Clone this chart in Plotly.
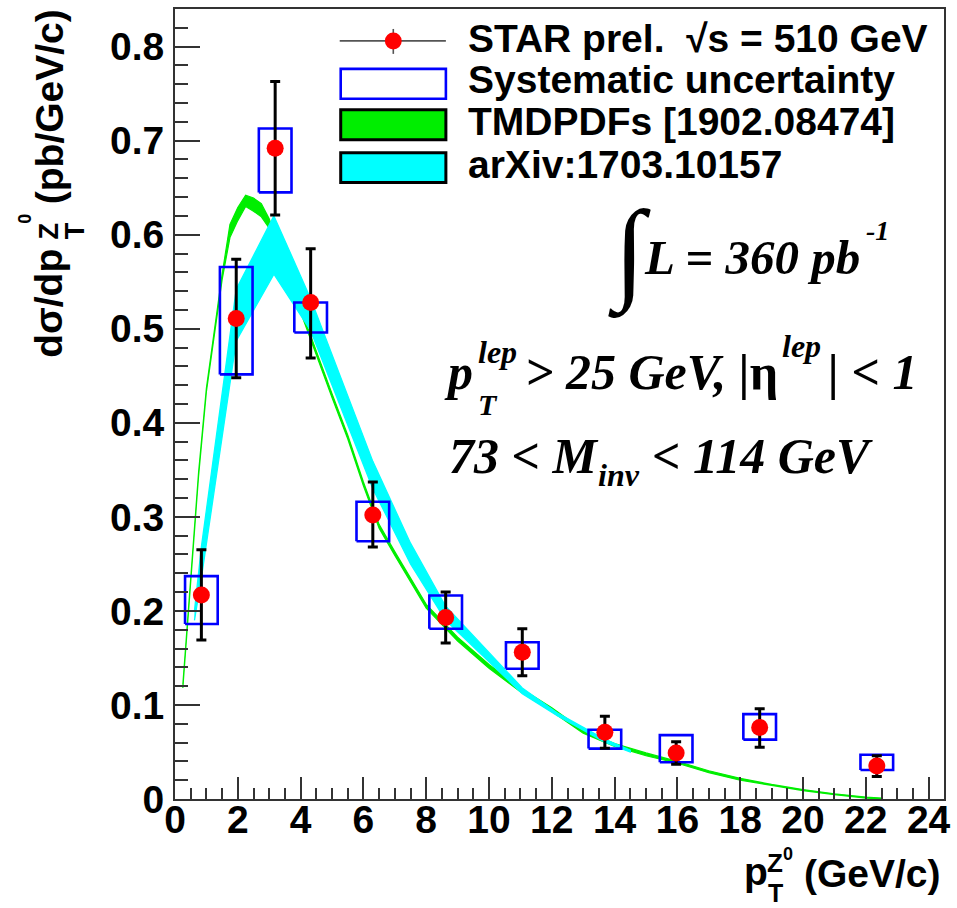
import plotly.graph_objects as go

# ---- STAR preliminary Z0 pT spectrum, sqrt(s) = 510 GeV ----
pt = [0.84, 1.95, 3.19, 4.32, 6.30, 8.62, 11.06, 13.69, 15.96, 18.62, 22.35]
xsec = [0.217, 0.511, 0.692, 0.528, 0.302, 0.193, 0.156, 0.071, 0.049, 0.076, 0.035]
stat_up = [0.048, 0.063, 0.071, 0.057, 0.035, 0.027, 0.025, 0.017, 0.012, 0.020, 0.011]
stat_dn = [0.048, 0.063, 0.071, 0.059, 0.034, 0.027, 0.025, 0.017, 0.012, 0.021, 0.011]
sys_lo = [0.186, 0.4515, 0.645, 0.496, 0.274, 0.181, 0.1385, 0.0536, 0.0390, 0.0631, 0.0308]
sys_hi = [0.237, 0.5657, 0.713, 0.528, 0.316, 0.2164, 0.1667, 0.0737, 0.0679, 0.0902, 0.0470]

# ---- TMDPDFs [1902.08474] prediction band ----
tmd_pt = [0.25, 0.5, 0.75, 1.0, 1.25, 1.5, 1.75, 2.0, 2.25, 2.5, 2.75, 3.0, 3.5, 4.0,
          4.5, 5.0, 5.5, 6.0, 6.5, 7.0, 8.0, 9.0, 10.0, 11.0, 12.0, 13.0, 14.0, 15.0,
          16.0, 17.0, 18.0, 19.0, 20.0, 21.0, 22.0, 22.5]
tmd_lo = [0.118, 0.233, 0.343, 0.433, 0.493, 0.552, 0.597, 0.615, 0.630, 0.625, 0.619,
          0.607, 0.563, 0.517, 0.473, 0.427, 0.383, 0.333, 0.288, 0.259, 0.203, 0.168,
          0.139, 0.114, 0.093, 0.070, 0.056, 0.046, 0.038, 0.028, 0.020, 0.0145, 0.009,
          0.0045, 0.001, 0.0]
tmd_hi = [0.122, 0.237, 0.347, 0.437, 0.497, 0.558, 0.611, 0.629, 0.642, 0.639, 0.633,
          0.617, 0.567, 0.521, 0.477, 0.431, 0.387, 0.337, 0.292, 0.263, 0.207, 0.172,
          0.143, 0.118, 0.097, 0.073, 0.059, 0.049, 0.040, 0.030, 0.022, 0.0155, 0.010,
          0.0055, 0.002, 0.001]

# ---- arXiv:1703.10157 prediction band ----
arx_pt = [0.62, 0.84, 1.95, 3.15, 4.32, 6.30, 7.5, 8.62, 11.06, 12.2, 13.69, 14.5]
arx_lo = [0.190, 0.235, 0.487, 0.558, 0.498, 0.330, 0.250, 0.190, 0.112, 0.088, 0.0605, 0.050]
arx_hi = [0.200, 0.268, 0.542, 0.620, 0.532, 0.359, 0.272, 0.205, 0.118, 0.091, 0.0635, 0.052]

# ---- axes ----
x_ticks = [0, 2, 4, 6, 8, 10, 12, 14, 16, 18, 20, 22, 24]
y_ticks = [0, 0.1, 0.2, 0.3, 0.4, 0.5, 0.6, 0.7, 0.8]
y_ticktext = ["0", "0.1", "0.2", "0.3", "0.4", "0.5", "0.6", "0.7", "0.8"]

legend_labels = ["STAR prel.  \u221as = 510 GeV", "Systematic uncertainty",
                 "TMDPDFs [1902.08474]", "arXiv:1703.10157"]

# ---- styles ----
W, H = 957, 908
L, R, T, B = 175, 950, 7, 799          # plot frame in pixels
SANS = "Liberation Sans, Arial, Helvetica, sans-serif"
SERIF = "Liberation Serif, Times New Roman, serif"
GREEN = "#00ee00"
CYAN = "#00ffff"
BLUE = "#0000ff"
RED = "#ff0000"
AXIS = "#333333"
SYS_HALF = 0.52


def fx(px):
    return (px - L) / (R - L)


def fy(py):
    return (B - py) / (B - T)


fig = go.Figure()

# prediction bands as closed polygons
fig.add_trace(go.Scatter(
    x=tmd_pt + tmd_pt[::-1], y=tmd_hi + tmd_lo[::-1],
    fill="toself", fillcolor=GREEN, mode="lines",
    line=dict(color=GREEN, width=1.2), hoverinfo="skip", showlegend=False))
fig.add_trace(go.Scatter(
    x=arx_pt + arx_pt[::-1], y=arx_hi + arx_lo[::-1],
    fill="toself", fillcolor=CYAN, mode="lines",
    line=dict(color=CYAN, width=1.3), hoverinfo="skip", showlegend=False))

# systematic uncertainty boxes
bx, by = [], []
for x, lo, hi in zip(pt, sys_lo, sys_hi):
    bx += [x - SYS_HALF, x + SYS_HALF, x + SYS_HALF, x - SYS_HALF, x - SYS_HALF, None]
    by += [lo, lo, hi, hi, lo, None]
fig.add_trace(go.Scatter(
    x=bx, y=by, mode="lines", line=dict(color=BLUE, width=2.6),
    hoverinfo="skip", showlegend=False))

# data points with statistical errors
fig.add_trace(go.Scatter(
    x=pt, y=xsec, mode="markers",
    marker=dict(color=RED, size=17, line=dict(width=0)),
    error_y=dict(type="data", symmetric=False, array=stat_up, arrayminus=stat_dn,
                 color="black", thickness=3, width=5),
    showlegend=False))

ann = []


def text(s, px, py, size, family=SANS, xanchor="left", yanchor="middle",
         angle=0, italic=False):
    ann.append(dict(
        text=s, x=fx(px), y=fy(py), xref="paper", yref="paper",
        xanchor=xanchor, yanchor=yanchor, showarrow=False, textangle=angle,
        font=dict(family=family, size=size, color="black", weight="bold",
                  style="italic" if italic else "normal")))


# y axis title
text("d\u03c3/dp", 48, 301.5, 39, xanchor="center", angle=-90)
text("T", 75, 229, 27, xanchor="center", angle=-90)
text("Z", 48, 229, 27, xanchor="center", angle=-90)
text("0", 24, 217, 18, xanchor="center", angle=-90)
text("(pb/GeV/c)", 48, 104.5, 39, xanchor="center", angle=-90)

# x axis title
text("p", 746, 872, 39)
text("T", 780, 893.5, 25, xanchor="center")
text("Z", 780, 863, 26, xanchor="center")
text("0", 793, 854.5, 18, xanchor="center")
text("(GeV/c)", 949, 874, 39, xanchor="right")

# luminosity and kinematic cuts
text("\u222b", 633, 252, 112, family=SERIF, xanchor="center")
text("L = 360 pb", 646, 256, 49, family=SERIF, italic=True)
text("-1", 869, 229, 28, family=SERIF, italic=True)
text("p", 444, 371, 50, family=SERIF, italic=True)
text("lep", 478, 351, 32, family=SERIF, italic=True)
text("T", 478, 403, 30, family=SERIF, italic=True)
text("> 25 GeV, |<span style=\"font-style:normal\">\u03b7</span>",
     526, 371, 50, family=SERIF, italic=True)
text("lep", 785, 345, 32, family=SERIF, italic=True)
text("| < 1", 831, 371, 50, family=SERIF, italic=True)
text("73 < M", 449, 455, 50, family=SERIF, italic=True)
text("inv", 599, 474, 32, family=SERIF, italic=True)
text("< 114 GeV", 654, 455, 50, family=SERIF, italic=True)

# legend
shapes = []
rows = [37, 78, 120, 163]
for lab, yc in zip(legend_labels, rows):
    text(lab, 468, yc, 39)

shapes.append(dict(type="line", xref="paper", yref="paper",
                   x0=fx(341), x1=fx(448), y0=fy(39), y1=fy(39),
                   line=dict(color="#555555", width=1.6)))
shapes.append(dict(type="line", xref="paper", yref="paper",
                   x0=fx(395), x1=fx(395), y0=fy(27), y1=fy(52),
                   line=dict(color="#555555", width=1.6)))
shapes.append(dict(type="circle", xref="paper", yref="paper",
                   x0=fx(386.5), x1=fx(403.5), y0=fy(30.5), y1=fy(47.5),
                   fillcolor=RED, line=dict(width=0)))
shapes.append(dict(type="rect", xref="paper", yref="paper",
                   x0=fx(342), x1=fx(448), y0=fy(67), y1=fy(97),
                   fillcolor="white", line=dict(color=BLUE, width=2.6)))
shapes.append(dict(type="rect", xref="paper", yref="paper",
                   x0=fx(342), x1=fx(448), y0=fy(108), y1=fy(138),
                   fillcolor=GREEN, line=dict(color="black", width=3)))
shapes.append(dict(type="rect", xref="paper", yref="paper",
                   x0=fx(342), x1=fx(448), y0=fy(151), y1=fy(181),
                   fillcolor=CYAN, line=dict(color="black", width=3)))

tickfont = dict(family=SANS, size=39, color="black", weight="bold")

fig.update_layout(
    width=W, height=H, autosize=False,
    margin=dict(l=L, r=W - R, t=T, b=H - B, pad=0),
    paper_bgcolor="white", plot_bgcolor="white",
    showlegend=False,
    annotations=ann, shapes=shapes,
    xaxis=dict(range=[0, 24.49], tickmode="array", tickvals=x_ticks,
               ticks="inside", ticklen=22, tickwidth=2, tickcolor=AXIS,
               minor=dict(dtick=0.5, tick0=0, ticks="inside", ticklen=11,
                          tickwidth=2, tickcolor=AXIS),
               showline=True, linecolor=AXIS, linewidth=2, mirror=True,
               showgrid=False, zeroline=False, tickfont=tickfont,
               ticklabelstandoff=-15),
    yaxis=dict(range=[0, 0.84], tickmode="array", tickvals=y_ticks,
               ticktext=y_ticktext,
               ticks="inside", ticklen=25, tickwidth=2, tickcolor=AXIS,
               minor=dict(dtick=0.02, tick0=0, ticks="inside", ticklen=13,
                          tickwidth=2, tickcolor=AXIS),
               showline=True, linecolor=AXIS, linewidth=2, mirror=True,
               showgrid=False, zeroline=False, tickfont=tickfont,
               ticklabelstandoff=1),
)

fig.write_html("out.html")
